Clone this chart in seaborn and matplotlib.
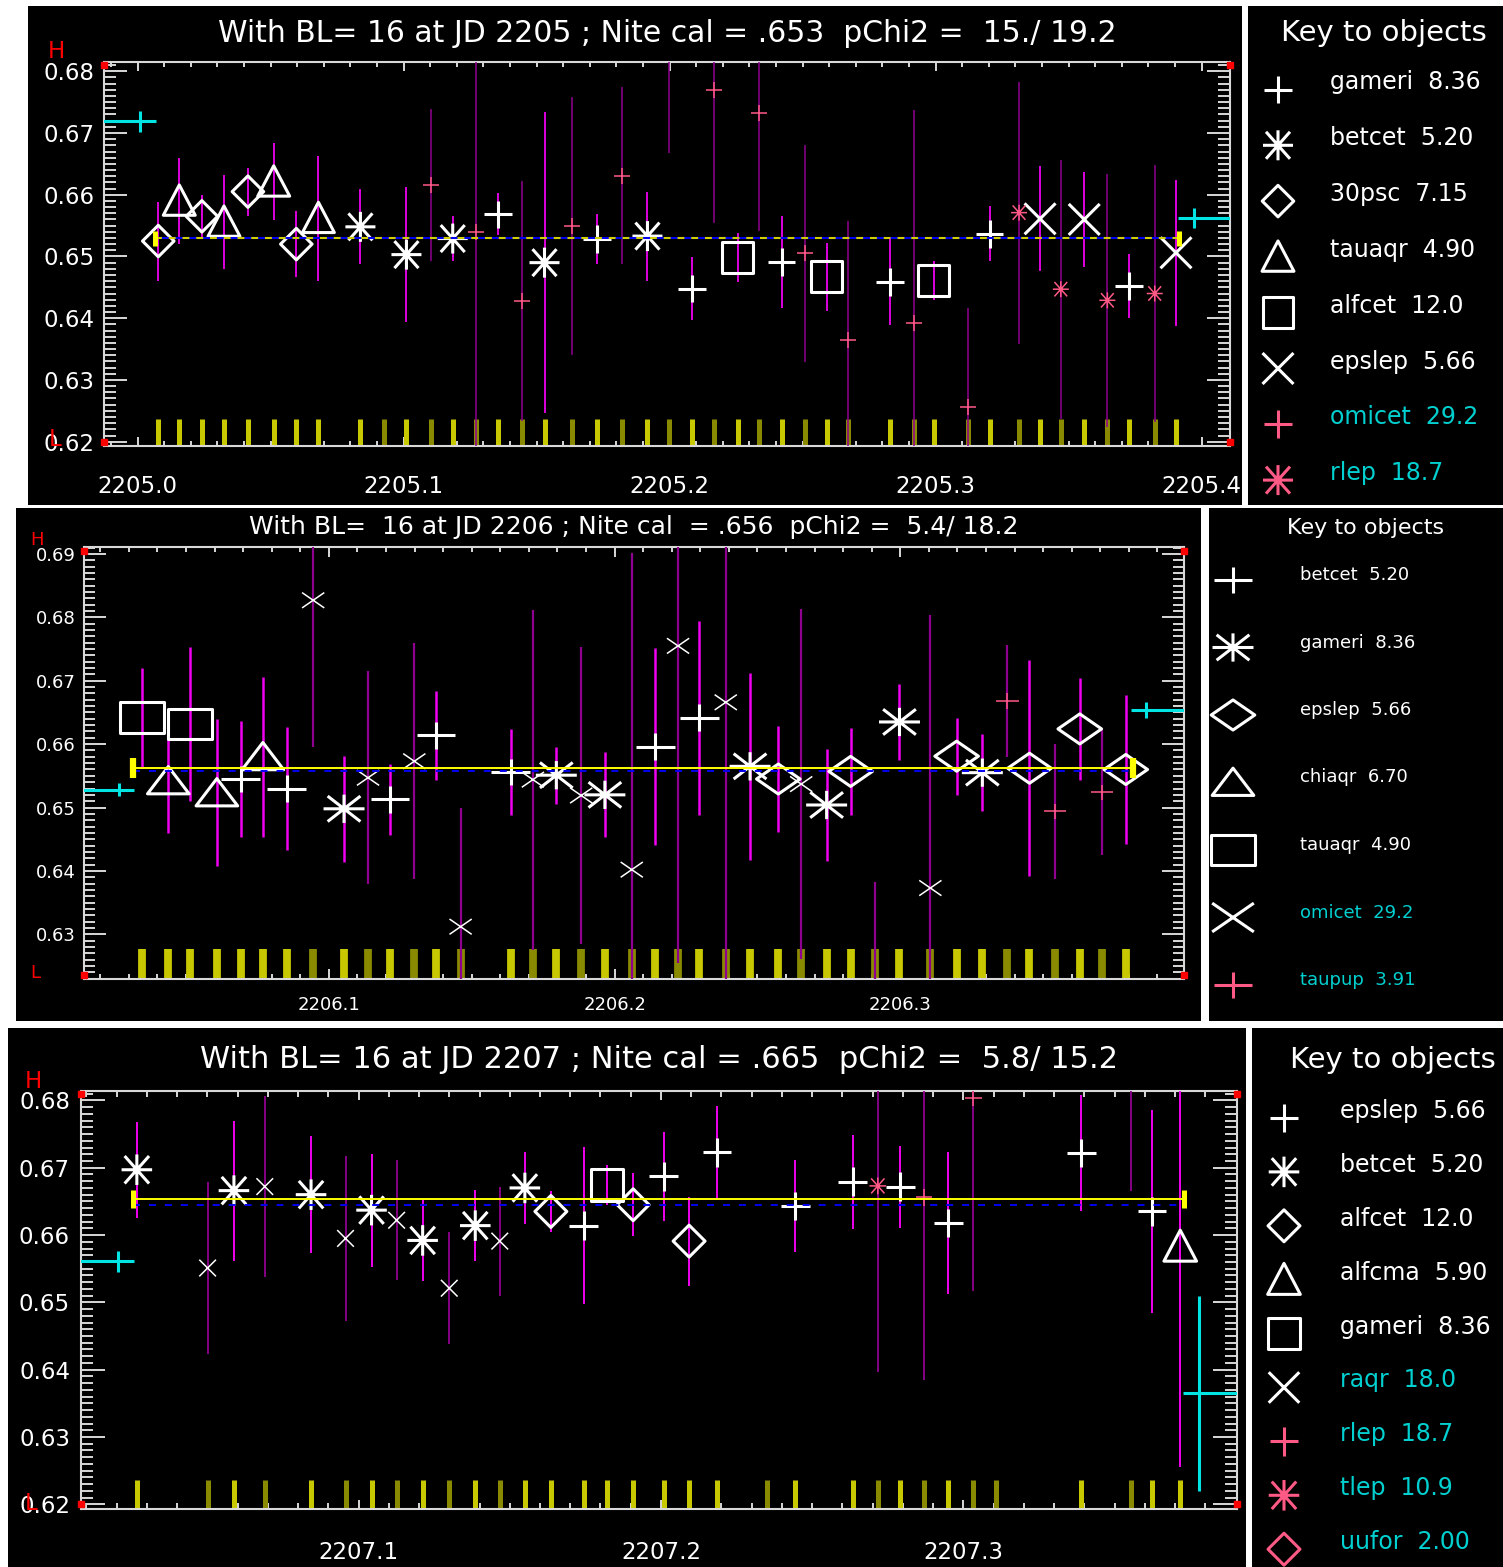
import numpy as np
import pandas as pd
import matplotlib
matplotlib.use("Agg")
import matplotlib.pyplot as plt
from matplotlib.path import Path
from matplotlib.patches import Rectangle
from matplotlib.ticker import MultipleLocator, FormatStrFormatter
import seaborn as sns

# ---------------------------------------------------------------- night JD 2205
p1_jd = [2205.0078, 2205.0157, 2205.0242, 2205.0325, 2205.0415, 2205.0512, 2205.0597,
         2205.0680, 2205.0838, 2205.0928, 2205.1011, 2205.1103, 2205.1185, 2205.1273,
         2205.1356, 2205.1446, 2205.1530, 2205.1633, 2205.1728, 2205.1823, 2205.1917,
         2205.1999, 2205.2085, 2205.2169, 2205.2256, 2205.2338, 2205.2421, 2205.2511,
         2205.2591, 2205.2670, 2205.2830, 2205.2918, 2205.2993, 2205.3121, 2205.3203,
         2205.3314, 2205.3393, 2205.3471, 2205.3559, 2205.3646, 2205.3727, 2205.3824,
         2205.3904]
p1_val = [0.6525, 0.6590, 0.6565, 0.6556, 0.6605, 0.6621, 0.6520, 0.6562, 0.6548, 0.6100,
          0.6503, 0.6616, 0.6529, 0.6540, 0.6568, 0.6428, 0.6490, 0.6550, 0.6528, 0.6631,
          0.6533, 0.6840, 0.6448, 0.6770, 0.6498, 0.6732, 0.6491, 0.6505, 0.6467, 0.6364,
          0.6459, 0.6393, 0.6461, 0.6256, 0.6537, 0.6571, 0.6561, 0.6447, 0.6560, 0.6429,
          0.6452, 0.6440, 0.6506]
p1_err = [0.0064, 0.0070, 0.0034, 0.0076, 0.0039, 0.0062, 0.0053, 0.0101, 0.0061, 0.0040,
          0.0109, 0.0123, 0.0037, 0.0400, 0.0034, 0.0194, 0.0244, 0.0209, 0.0040, 0.0143,
          0.0072, 0.0172, 0.0051, 0.0216, 0.0040, 0.0190, 0.0075, 0.0176, 0.0055, 0.0194,
          0.0070, 0.0344, 0.0032, 0.0161, 0.0045, 0.0212, 0.0085, 0.0210, 0.0077, 0.0205,
          0.0052, 0.0208, 0.0118]
p1_obj = ["30psc", "tauaqr", "30psc", "tauaqr", "30psc", "tauaqr", "30psc", "tauaqr",
          "betcet", "omicet", "betcet", "omicet", "betcet", "omicet", "gameri", "omicet",
          "betcet", "omicet", "gameri", "omicet", "betcet", "omicet", "gameri", "omicet",
          "alfcet", "omicet", "gameri", "omicet", "alfcet", "omicet", "gameri", "omicet",
          "alfcet", "omicet", "gameri", "rlep", "epslep", "rlep", "epslep", "rlep",
          "gameri", "rlep", "epslep"]
p1_key_names = ["gameri", "betcet", "30psc", "tauaqr", "alfcet", "epslep", "omicet", "rlep"]
p1_key_mags = ["8.36", "5.20", "7.15", "4.90", "12.0", "5.66", "29.2", "18.7"]
p1_key_syms = ["plus", "aster", "diamond", "triangle", "square", "cross", "plus", "aster"]
p1_key_bad = [False, False, False, False, False, False, True, True]
p1_title = "With BL= 16 at JD 2205 ; Nite cal = .653  pChi2 =  15./ 19.2"
p1_cal, p1_mean = 0.6530, 0.6530
p1_cal_span = [2205.0064, 2205.3914]
p1_ref_jd = [2205.0009, 2205.3973]
p1_ref_val = [0.6719, 0.6562]
p1_ref_err = [0.0017, 0.0016]
p1_hl = [0.6810, 0.6200]

# ---------------------------------------------------------------- night JD 2206
p2_jd = [2206.0345, 2206.0438, 2206.0515, 2206.0608, 2206.0691, 2206.0769, 2206.0853,
         2206.0945, 2206.1053, 2206.1137, 2206.1214, 2206.1299, 2206.1375, 2206.1461,
         2206.1636, 2206.1714, 2206.1796, 2206.1883, 2206.1966, 2206.2060, 2206.2142,
         2206.2222, 2206.2296, 2206.2389, 2206.2474, 2206.2573, 2206.2653, 2206.2742,
         2206.2826, 2206.2913, 2206.2997, 2206.3105, 2206.3197, 2206.3287, 2206.3375,
         2206.3452, 2206.3542, 2206.3628, 2206.3706, 2206.3789]
p2_val = [0.6642, 0.6542, 0.6632, 0.6523, 0.6545, 0.6580, 0.6530, 0.6827, 0.6498, 0.6547,
          0.6513, 0.6573, 0.6614, 0.6312, 0.6556, 0.6544, 0.6551, 0.6519, 0.6520, 0.6402,
          0.6596, 0.6755, 0.6642, 0.6666, 0.6565, 0.6545, 0.6537, 0.6504, 0.6557, 0.6190,
          0.6635, 0.6373, 0.6581, 0.6555, 0.6668, 0.6562, 0.6494, 0.6624, 0.6524, 0.6560]
p2_err = [0.0078, 0.0082, 0.0122, 0.0116, 0.0091, 0.0126, 0.0097, 0.0231, 0.0084, 0.0168,
          0.0056, 0.0186, 0.0070, 0.0188, 0.0068, 0.0268, 0.0045, 0.0235, 0.0067, 0.0500,
          0.0155, 0.0500, 0.0153, 0.0500, 0.0148, 0.0083, 0.0276, 0.0088, 0.0069, 0.0193,
          0.0060, 0.0430, 0.0061, 0.0061, 0.0088, 0.0170, 0.0107, 0.0081, 0.0099, 0.0117]
p2_obj = ["tauaqr", "chiaqr", "tauaqr", "chiaqr", "betcet", "chiaqr", "betcet", "omicet",
          "gameri", "omicet", "betcet", "omicet", "betcet", "omicet", "betcet", "omicet",
          "gameri", "omicet", "gameri", "omicet", "betcet", "omicet", "betcet", "omicet",
          "gameri", "epslep", "omicet", "gameri", "epslep", "taupup", "gameri", "omicet",
          "epslep", "gameri", "taupup", "epslep", "taupup", "epslep", "taupup", "epslep"]
p2_key_names = ["betcet", "gameri", "epslep", "chiaqr", "tauaqr", "omicet", "taupup"]
p2_key_mags = ["5.20", "8.36", "5.66", "6.70", "4.90", "29.2", "3.91"]
p2_key_syms = ["plus", "aster", "diamond", "triangle", "square", "cross", "plus"]
p2_key_bad = [False, False, False, False, False, True, True]
p2_title = "With BL=  16 at JD 2206 ; Nite cal  = .656  pChi2 =  5.4/ 18.2"
p2_cal, p2_mean = 0.6562, 0.6558
p2_cal_span = [2206.0315, 2206.3815]
p2_ref_jd = [2206.0266, 2206.3861]
p2_ref_val = [0.6528, 0.6654]
p2_ref_err = [0.0010, 0.0012]
p2_hl = [0.6905, 0.6236]

# ---------------------------------------------------------------- night JD 2207
p3_jd = [2207.0267, 2207.0501, 2207.0588, 2207.0690, 2207.0843, 2207.0957, 2207.1043,
         2207.1126, 2207.1212, 2207.1300, 2207.1386, 2207.1467, 2207.1550, 2207.1636,
         2207.1744, 2207.1821, 2207.1908, 2207.2009, 2207.2093, 2207.2185, 2207.2349,
         2207.2444, 2207.2634, 2207.2717, 2207.2792, 2207.2870, 2207.2950, 2207.3033,
         2207.3108, 2207.3390, 2207.3554, 2207.3624, 2207.3717]
p3_val = [0.6697, 0.6551, 0.6666, 0.6672, 0.6660, 0.6595, 0.6637, 0.6622, 0.6592, 0.6521,
          0.6614, 0.6591, 0.6670, 0.6635, 0.6614, 0.6674, 0.6645, 0.6687, 0.6591, 0.6723,
          0.6100, 0.6643, 0.6679, 0.6673, 0.6672, 0.6656, 0.6618, 0.6804, 0.6100, 0.6722,
          0.6860, 0.6635, 0.6583]
p3_err = [0.0071, 0.0128, 0.0104, 0.0134, 0.0087, 0.0123, 0.0084, 0.0089, 0.0061, 0.0083,
          0.0053, 0.0081, 0.0054, 0.0030, 0.0117, 0.0030, 0.0047, 0.0066, 0.0066, 0.0069,
          0.0040, 0.0068, 0.0070, 0.0276, 0.0061, 0.0272, 0.0105, 0.0287, 0.0040, 0.0086,
          0.0195, 0.0151, 0.0328]
p3_obj = ["betcet", "raqr", "betcet", "raqr", "betcet", "raqr", "betcet", "raqr", "betcet",
          "raqr", "betcet", "raqr", "betcet", "alfcet", "epslep", "gameri", "alfcet",
          "epslep", "alfcet", "epslep", "uufor", "epslep", "epslep", "tlep", "epslep",
          "rlep", "epslep", "rlep", "uufor", "epslep", "uufor", "epslep", "alfcma"]
p3_key_names = ["epslep", "betcet", "alfcet", "alfcma", "gameri", "raqr", "rlep", "tlep", "uufor"]
p3_key_mags = ["5.66", "5.20", "12.0", "5.90", "8.36", "18.0", "18.7", "10.9", "2.00"]
p3_key_syms = ["plus", "aster", "diamond", "triangle", "square", "cross", "plus", "aster", "diamond"]
p3_key_bad = [False, False, False, False, False, True, True, True, True]
p3_title = "With BL= 16 at JD 2207 ; Nite cal = .665  pChi2 =  5.8/ 15.2"
p3_cal, p3_mean = 0.6653, 0.6644
p3_cal_span = [2207.0254, 2207.3730]
p3_ref_jd = [2207.0204, 2207.3780]
p3_ref_val = [0.6561, 0.6365]
p3_ref_err = [0.0016, 0.0145]
p3_hl = [0.6809, 0.6200]

# ---------------------------------------------------------------- styling
W, H = 1503, 1567
PINK = "#ff5a86"
WHITE = "#ffffff"
MAG = "#f000f0"
DARK_MAG = "#900090"
TICK_GOOD = "#c8c800"
TICK_BAD = "#8a8a00"
CAL_YELLOW = "#ffff00"
MEAN_BLUE = "#0000f0"
CYAN = "#00e4e4"
KEY_BAD = "#00d0d0"
FRAME = "#d8d8d8"

sns.set_theme(style="dark")
plt.rcParams["font.family"] = ["DejaVu Sans"]


def marker_path(kind, sx=1.0):
    M, L, C = Path.MOVETO, Path.LINETO, Path.CLOSEPOLY
    if kind == "plus":
        v, c = [(-.5, 0), (.5, 0), (0, -.5), (0, .5)], [M, L, M, L]
    elif kind == "cross":
        v, c = [(-.5, -.5), (.5, .5), (-.5, .5), (.5, -.5)], [M, L, M, L]
    elif kind == "aster":
        v = [(-.5, 0), (.5, 0), (0, -.5), (0, .5),
             (-.4, -.45), (.4, .45), (-.4, .45), (.4, -.45)]
        c = [M, L] * 4
    elif kind == "diamond":
        v, c = [(0, .5), (.5, 0), (0, -.5), (-.5, 0), (0, .5)], [M, L, L, L, C]
    elif kind == "triangle":
        v, c = [(0, .5), (.5, -.45), (-.5, -.45), (0, .5)], [M, L, L, C]
    else:  # square
        v, c = [(-.5, -.5), (.5, -.5), (.5, .5), (-.5, .5), (-.5, -.5)], [M, L, L, L, C]
    return Path([(x * sx, y) for x, y in v], c)


def px_rect(x0, y0, x1, y1):
    return [x0 / W, 1 - y1 / H, (x1 - x0) / W, (y1 - y0) / H]


panels = [
    dict(jd=p1_jd, val=p1_val, err=p1_err, obj=p1_obj, names=p1_key_names,
         mags=p1_key_mags, syms=p1_key_syms, bad=p1_key_bad, title=p1_title,
         cal=p1_cal, mean=p1_mean, span=p1_cal_span, ref_jd=p1_ref_jd,
         ref_val=p1_ref_val, ref_err=p1_ref_err, hl=p1_hl,
         xlim=(2204.9874, 2205.4107), ylim=(0.6193, 0.6815),
         frame=(104, 62, 1230, 446), bg=(28, 6, 1242, 505), keybg=(1248, 6, 1503, 505),
         sx=1.0, sizes=dict(plus=20, aster=21.6, diamond=22.7, triangle=23, square=22.3, cross=22.3),
         small=11.5, elw=(1.3, 1.1), barw=3.6, fs=16.5, xpad=21, ypad=7,
         ylen=(16.5, 8.7), xlen=(6.5, 3.6), dashed_cal=True, arm=0.006, capsz=(10.8, 3.6),
         title_xy=(667, 33), tfs=21.5, h_xy=(56, 52), l_xy=(55, 440),
         key_title=(1384, 33), kfs_t=21, kx=1278, ktx=1330, ky0=89.5, kdy=55.8,
         koff=-7, kfs=17),
    dict(jd=p2_jd, val=p2_val, err=p2_err, obj=p2_obj, names=p2_key_names,
         mags=p2_key_mags, syms=p2_key_syms, bad=p2_key_bad, title=p2_title,
         cal=p2_cal, mean=p2_mean, span=p2_cal_span, ref_jd=p2_ref_jd,
         ref_val=p2_ref_val, ref_err=p2_ref_err, hl=p2_hl,
         xlim=(2206.0144, 2206.3991), ylim=(0.6229, 0.69115),
         frame=(84.3, 546.7, 1183.5, 979.3), bg=(16, 508, 1201, 1021), keybg=(1209, 508, 1503, 1021),
         sx=1.45, sizes=dict(plus=28, aster=29.5, diamond=31.4, triangle=30, square=31.4, cross=30),
         small=16, elw=(1.8, 1.6), barw=5.6, fs=13, xpad=12, ypad=6,
         ylen=(16, 7.7), xlen=(7, 3.6), dashed_cal=False, arm=0.0052, capsz=(14, 4.5),
         title_xy=(634, 527), tfs=18, h_xy=(37, 540), l_xy=(35, 973),
         key_title=(1366, 528), kfs_t=16, kx=1233, ktx=1300, ky0=580, kdy=67.5,
         koff=-5, kfs=13),
    dict(jd=p3_jd, val=p3_val, err=p3_err, obj=p3_obj, names=p3_key_names,
         mags=p3_key_mags, syms=p3_key_syms, bad=p3_key_bad, title=p3_title,
         cal=p3_cal, mean=p3_mean, span=p3_cal_span, ref_jd=p3_ref_jd,
         ref_val=p3_ref_val, ref_err=p3_ref_err, hl=p3_hl,
         xlim=(2207.0083, 2207.3903), ylim=(0.6193, 0.6814),
         frame=(81.2, 1091, 1236.5, 1509), bg=(8, 1028, 1246, 1567), keybg=(1252, 1028, 1503, 1567),
         sx=1.0, sizes=dict(plus=20.7, aster=22, diamond=23, triangle=23.5, square=22.8, cross=22),
         small=12, elw=(1.4, 1.3), barw=3.6, fs=16.5, xpad=23, ypad=8,
         ylen=(17, 8.6), xlen=(6.5, 4), dashed_cal=False, arm=0.0053, capsz=(12.5, 3.6),
         title_xy=(659, 1060), tfs=22, h_xy=(33, 1082), l_xy=(31, 1503),
         key_title=(1393, 1060), kfs_t=21, kx=1284, ktx=1340, ky0=1118, kdy=53.9,
         koff=-7, kfs=17),
]

fig = plt.figure(figsize=(W / 100, H / 100), dpi=100, facecolor="white")

# black page backgrounds
bg_ax = fig.add_axes([0, 0, 1, 1], zorder=0)
bg_ax.set_xlim(0, W)
bg_ax.set_ylim(H, 0)
bg_ax.axis("off")
for d in panels:
    for (x0, y0, x1, y1) in (d["bg"], d["keybg"]):
        bg_ax.add_patch(Rectangle((x0, y0), x1 - x0, y1 - y0, color="black", lw=0))

# overlay for titles, H/L flags and the object keys
ov = fig.add_axes([0, 0, 1, 1], zorder=3)
ov.patch.set_alpha(0)


def scatter_marks(ax, x, y, kind, sx, size, colour, lw, z=5):
    frame = pd.DataFrame({"jd": x, "val": y})
    sns.scatterplot(data=frame, x="jd", y="val", ax=ax, marker=marker_path(kind, sx),
                    s=size ** 2, facecolor="none", edgecolor=colour, linewidth=lw,
                    legend=False, zorder=z)


for d in panels:
    ax = fig.add_axes(px_rect(*d["frame"]), zorder=1)
    ax.set_facecolor("black")
    jd = np.asarray(d["jd"])
    val = np.asarray(d["val"])
    err = np.asarray(d["err"])
    bad_of = dict(zip(d["names"], d["bad"]))
    bad = np.array([bad_of[o] for o in d["obj"]])

    # exposure ticks along the bottom of the frame
    xt = ax.get_xaxis_transform()
    ax.vlines(jd[~bad], 0, 0.07, transform=xt, colors=TICK_GOOD, lw=d["barw"], zorder=2)
    ax.vlines(jd[bad], 0, 0.07, transform=xt, colors=TICK_BAD, lw=d["barw"], zorder=2)

    # error bars
    ax.vlines(jd[~bad], val[~bad] - err[~bad], val[~bad] + err[~bad],
              colors=MAG, lw=d["elw"][0], zorder=3)
    ax.vlines(jd[bad], val[bad] - err[bad], val[bad] + err[bad],
              colors=DARK_MAG, lw=d["elw"][1], zorder=3)

    # object symbols
    for name, sym, is_bad in zip(d["names"], d["syms"], d["bad"]):
        sel = np.array([o == name for o in d["obj"]])
        if not sel.any():
            continue
        colour = PINK if (is_bad and sym != "cross") else WHITE
        size = d["small"] if is_bad else d["sizes"][sym]
        scatter_marks(ax, jd[sel], val[sel], sym, d["sx"], size, colour,
                      1.1 if is_bad else 2.2)

    # nightly calibration (yellow) and weighted mean (blue dashed)
    span = d["span"]
    if d["dashed_cal"]:
        ax.plot(span, [d["mean"]] * 2, color=MEAN_BLUE, lw=1.5, zorder=6)
        ax.plot(span, [d["cal"]] * 2, color="#d0d000", lw=1.5, ls=(0, (3.3, 3.3)), zorder=6)
    else:
        ax.plot(span, [d["mean"]] * 2, color=MEAN_BLUE, lw=1.4, ls=(0, (3.6, 4.6)), zorder=6)
        ax.plot(span, [d["cal"]] * 2, color=CAL_YELLOW, lw=1.4, zorder=6)
    ax.plot(span, [d["cal"]] * 2, ls="none", marker="|", ms=d["capsz"][0],
            mew=d["capsz"][1], color=CAL_YELLOW, zorder=7)

    # reference level crosses at the frame edges
    for i, (rx, rv, re) in enumerate(zip(d["ref_jd"], d["ref_val"], d["ref_err"])):
        arm = [[0.03], [d["arm"]]] if i == 0 else [[d["arm"]], [0.03]]
        ax.errorbar([rx], [rv], yerr=[re], xerr=arm, fmt="none", ecolor=CYAN,
                    elinewidth=2.2, capsize=0, zorder=6)

    # H / L flags at the frame corners
    xl = d["xlim"]
    ax.plot([xl[0], xl[1], xl[0], xl[1]], [d["hl"][0], d["hl"][0], d["hl"][1], d["hl"][1]],
            ls="none", marker="s", ms=4.8, color="red", clip_on=False, zorder=8)

    ax.set_xlim(*d["xlim"])
    ax.set_ylim(*d["ylim"])
    ax.set_xlabel("")
    ax.set_ylabel("")
    ax.xaxis.set_major_locator(MultipleLocator(0.1))
    ax.xaxis.set_minor_locator(MultipleLocator(0.01))
    ax.yaxis.set_major_locator(MultipleLocator(0.01))
    ax.yaxis.set_minor_locator(MultipleLocator(0.001))
    ax.xaxis.set_major_formatter(FormatStrFormatter("%.1f"))
    ax.yaxis.set_major_formatter(FormatStrFormatter("%.2f"))
    ax.tick_params(which="both", direction="in", top=True, right=True, bottom=True,
                   left=True, labelbottom=True, labelleft=True, labeltop=False,
                   labelright=False, color=FRAME, labelcolor="white", width=1.4,
                   labelsize=d["fs"])
    ax.tick_params(axis="y", which="major", length=d["ylen"][0], pad=d["ypad"])
    ax.tick_params(axis="y", which="minor", length=d["ylen"][1])
    ax.tick_params(axis="x", which="major", length=d["xlen"][0], pad=d["xpad"])
    ax.tick_params(axis="x", which="minor", length=d["xlen"][1])
    ax.grid(False)
    for sp in ax.spines.values():
        sp.set_color(FRAME)
        sp.set_linewidth(1.5)
        sp.set_visible(True)

    # titles and flags
    ov.text(*d["title_xy"], d["title"], color="white", fontsize=d["tfs"],
            ha="center", va="center")
    ov.text(*d["h_xy"], "H", color="red", fontsize=d["fs"], ha="center", va="center")
    ov.text(*d["l_xy"], "L", color="red", fontsize=d["fs"], ha="center", va="center")

    # key to objects
    ov.text(*d["key_title"], "Key to objects", color="white", fontsize=d["kfs_t"],
            ha="center", va="center")
    for i, (name, mag, sym, is_bad) in enumerate(zip(d["names"], d["mags"], d["syms"], d["bad"])):
        ky = d["ky0"] + i * d["kdy"]
        colour = PINK if (is_bad and sym != "cross") else WHITE
        scatter_marks(ov, [d["kx"]], [ky], sym, d["sx"], d["sizes"][sym], colour, 2.2)
        ov.text(d["ktx"], ky + d["koff"], f"{name}  {mag}", fontsize=d["kfs"],
                color=KEY_BAD if is_bad else "white", ha="left", va="center")

ov.set_xlim(0, W)
ov.set_ylim(H, 0)
ov.axis("off")

fig.savefig("out.png", dpi=100, facecolor="white")
